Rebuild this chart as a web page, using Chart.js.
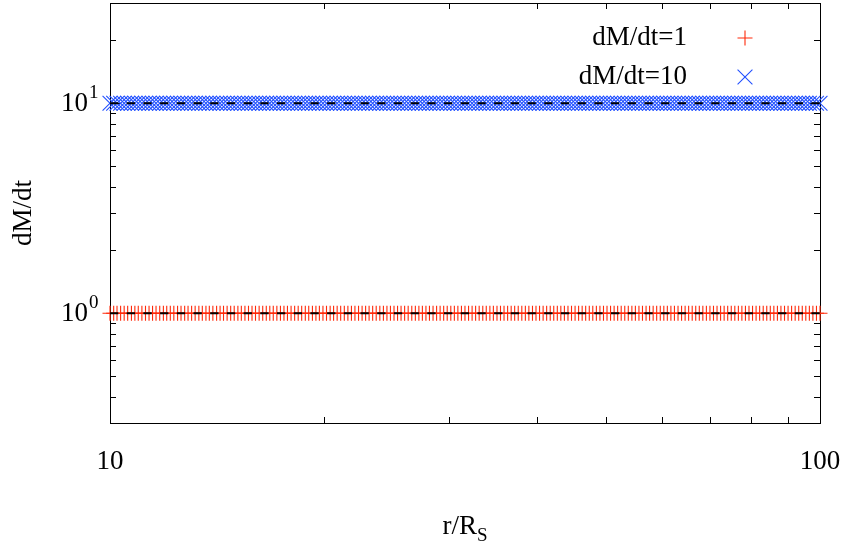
<!DOCTYPE html>
<html>
<head>
<meta charset="utf-8">
<title>dM/dt</title>
<script src="https://cdn.jsdelivr.net/npm/chart.js@4/dist/chart.umd.min.js"></script>
<style>
  body { margin: 0; background: #fff; }
  canvas { display: block; }
</style>
</head>
<body>
<canvas id="rateChart" width="843" height="546"></canvas>
<script>
/* global Chart */
// radius grid (r/R_S), evenly spaced in log between 10 and 100
const rGrid = [
  10.00, 10.12, 10.23, 10.35, 10.47, 10.59, 10.72, 10.84, 10.96, 11.09,
  11.22, 11.35, 11.48, 11.61, 11.75, 11.89, 12.02, 12.16, 12.30, 12.45,
  12.59, 12.74, 12.88, 13.03, 13.18, 13.34, 13.49, 13.65, 13.80, 13.96,
  14.13, 14.29, 14.45, 14.62, 14.79, 14.96, 15.14, 15.31, 15.49, 15.67,
  15.85, 16.03, 16.22, 16.41, 16.60, 16.79, 16.98, 17.18, 17.38, 17.58,
  17.78, 17.99, 18.20, 18.41, 18.62, 18.84, 19.05, 19.28, 19.50, 19.72,
  19.95, 20.18, 20.42, 20.65, 20.89, 21.13, 21.38, 21.63, 21.88, 22.13,
  22.39, 22.65, 22.91, 23.17, 23.44, 23.71, 23.99, 24.27, 24.55, 24.83,
  25.12, 25.41, 25.70, 26.00, 26.30, 26.61, 26.92, 27.23, 27.54, 27.86,
  28.18, 28.51, 28.84, 29.17, 29.51, 29.85, 30.20, 30.55, 30.90, 31.26,
  31.62, 31.99, 32.36, 32.73, 33.11, 33.50, 33.88, 34.28, 34.67, 35.08,
  35.48, 35.89, 36.31, 36.73, 37.15, 37.58, 38.02, 38.46, 38.90, 39.36,
  39.81, 40.27, 40.74, 41.21, 41.69, 42.17, 42.66, 43.15, 43.65, 44.16,
  44.67, 45.19, 45.71, 46.24, 46.77, 47.32, 47.86, 48.42, 48.98, 49.55,
  50.12, 50.70, 51.29, 51.88, 52.48, 53.09, 53.70, 54.33, 54.95, 55.59,
  56.23, 56.89, 57.54, 58.21, 58.88, 59.57, 60.26, 60.95, 61.66, 62.37,
  63.10, 63.83, 64.57, 65.31, 66.07, 66.83, 67.61, 68.39, 69.18, 69.98,
  70.79, 71.61, 72.44, 73.28, 74.13, 74.99, 75.86, 76.74, 77.62, 78.52,
  79.43, 80.35, 81.28, 82.22, 83.18, 84.14, 85.11, 86.10, 87.10, 88.10,
  89.13, 90.16, 91.20, 92.26, 93.33, 94.41, 95.50, 96.61, 97.72, 98.86,
  100.00,
];

// accretion rate of each run (constant with radius)
const seriesLabels = ['dM/dt=1', 'dM/dt=10'];
const seriesRates = [1, 10];
const seriesColors = ['#ff2a0a', '#2150ff'];
const seriesStyles = ['cross', 'crossRot'];
const seriesRadius = [7.5, 10.5];

// reference (analytic) rates drawn as dashed black lines
const guideX = [10, 100];
const guideRates = [1, 10];

// axis ticks
const xMajor = [10, 100];
const xMinor = [20, 30, 40, 50, 60, 70, 80, 90];
const yMajor = [1, 10];
const yMinor = [0.3, 0.4, 0.5, 0.6, 0.7, 0.8, 0.9, 2, 3, 4, 5, 6, 7, 8, 9, 20];

const FONT = '"Liberation Serif", "Times New Roman", serif';

function toPoints(xs, yValue) {
  return xs.map((x) => ({ x, y: yValue }));
}

const datasets = [];

guideRates.forEach((rate) => {
  datasets.push({
    label: `guide ${rate}`,
    data: toPoints(guideX, rate),
    borderColor: '#000',
    borderWidth: 2,
    borderDash: [8.3, 8.4],
    pointRadius: 0,
    showLine: true,
    order: 0,
  });
});

seriesRates.forEach((rate, i) => {
  datasets.push({
    label: seriesLabels[i],
    data: toPoints(rGrid, rate),
    showLine: false,
    pointStyle: seriesStyles[i],
    pointRadius: seriesRadius[i],
    pointBorderWidth: 1.1,
    pointBorderColor: seriesColors[i],
    pointBackgroundColor: seriesColors[i],
    clip: false,
    order: 1,
  });
});

function crisp(v) {
  return Math.round(v) + 0.5;
}

// gnuplot style frame with inward ticks on every side
const frameAndTicks = {
  id: 'frameAndTicks',
  beforeDatasetsDraw(chart) {
    const { ctx, chartArea: a } = chart;
    const xs = chart.scales.x;
    const ys = chart.scales.y;
    ctx.save();
    ctx.strokeStyle = '#000';
    ctx.lineWidth = 1;

    const tickX = (vals, len) => {
      vals.forEach((v) => {
        const px = crisp(xs.getPixelForValue(v));
        ctx.beginPath();
        ctx.moveTo(px, a.bottom);
        ctx.lineTo(px, a.bottom - len);
        ctx.moveTo(px, a.top);
        ctx.lineTo(px, a.top + len);
        ctx.stroke();
      });
    };
    const tickY = (vals, len) => {
      vals.forEach((v) => {
        const py = crisp(ys.getPixelForValue(v));
        ctx.beginPath();
        ctx.moveTo(a.left, py);
        ctx.lineTo(a.left + len, py);
        ctx.moveTo(a.right, py);
        ctx.lineTo(a.right - len, py);
        ctx.stroke();
      });
    };
    tickX(xMajor, 10);
    tickX(xMinor, 6);
    tickY(yMajor, 10);
    tickY(yMinor, 6);

    ctx.strokeRect(crisp(a.left), crisp(a.top),
      Math.round(a.right - a.left), Math.round(a.bottom - a.top));
    ctx.restore();
  },
  afterDraw(chart) {
    const { ctx, chartArea: a } = chart;
    const xs = chart.scales.x;
    const ys = chart.scales.y;
    ctx.save();
    ctx.fillStyle = '#000';

    // x tick labels
    ctx.font = `27px ${FONT}`;
    ctx.textAlign = 'center';
    ctx.textBaseline = 'middle';
    xMajor.forEach((v) => {
      ctx.fillText(String(v), xs.getPixelForValue(v), 462);
    });

    // y tick labels as powers of ten
    yMajor.forEach((v) => {
      const py = ys.getPixelForValue(v);
      ctx.font = `27px ${FONT}`;
      ctx.textAlign = 'right';
      ctx.textBaseline = 'middle';
      ctx.fillText('10', 88, py + 1);
      ctx.font = `19px ${FONT}`;
      ctx.textAlign = 'left';
      ctx.fillText(String(Math.round(Math.log10(v))), 89, py - 10);
    });

    // axis titles
    ctx.font = `27px ${FONT}`;
    ctx.textAlign = 'center';
    ctx.textBaseline = 'middle';
    ctx.save();
    ctx.translate(24, (a.top + a.bottom) / 2);
    ctx.rotate(-Math.PI / 2);
    ctx.fillText('dM/dt', 0, 0);
    ctx.restore();

    const midX = (a.left + a.right) / 2;
    ctx.textBaseline = 'alphabetic';
    ctx.textAlign = 'left';
    const base = 'r/R';
    const wBase = ctx.measureText(base).width;
    ctx.font = `19px ${FONT}`;
    const wSub = ctx.measureText('S').width;
    const startX = midX - (wBase + wSub) / 2;
    ctx.font = `27px ${FONT}`;
    ctx.fillText(base, startX, 534);
    ctx.font = `19px ${FONT}`;
    ctx.fillText('S', startX + wBase, 541);

    // key: label right aligned, symbol to its right
    seriesLabels.forEach((label, i) => {
      const y = 38 + i * 39;
      ctx.font = `27px ${FONT}`;
      ctx.textAlign = 'right';
      ctx.textBaseline = 'middle';
      ctx.fillText(label, 687, y);
      ctx.strokeStyle = seriesColors[i];
      ctx.lineWidth = 1.1;
      Chart.helpers.drawPoint(ctx, {
        pointStyle: seriesStyles[i],
        radius: seriesRadius[i],
        borderWidth: 1.1,
        rotation: 0,
      }, 745, y);
    });
    ctx.restore();
  },
};

const rateChart = new Chart(document.getElementById('rateChart'), {
  type: 'line',
  data: { datasets },
  options: {
    responsive: false,
    animation: false,
    layout: {
      autoPadding: false,
      padding: { left: 110, right: 23, top: 3, bottom: 123 },
    },
    scales: {
      x: { type: 'logarithmic', min: 10, max: 100, display: false },
      y: { type: 'logarithmic', min: 0.3, max: 30, display: false },
    },
    plugins: {
      legend: { display: false },
      tooltip: { enabled: false },
    },
  },
  plugins: [frameAndTicks],
});
</script>
</body>
</html>
